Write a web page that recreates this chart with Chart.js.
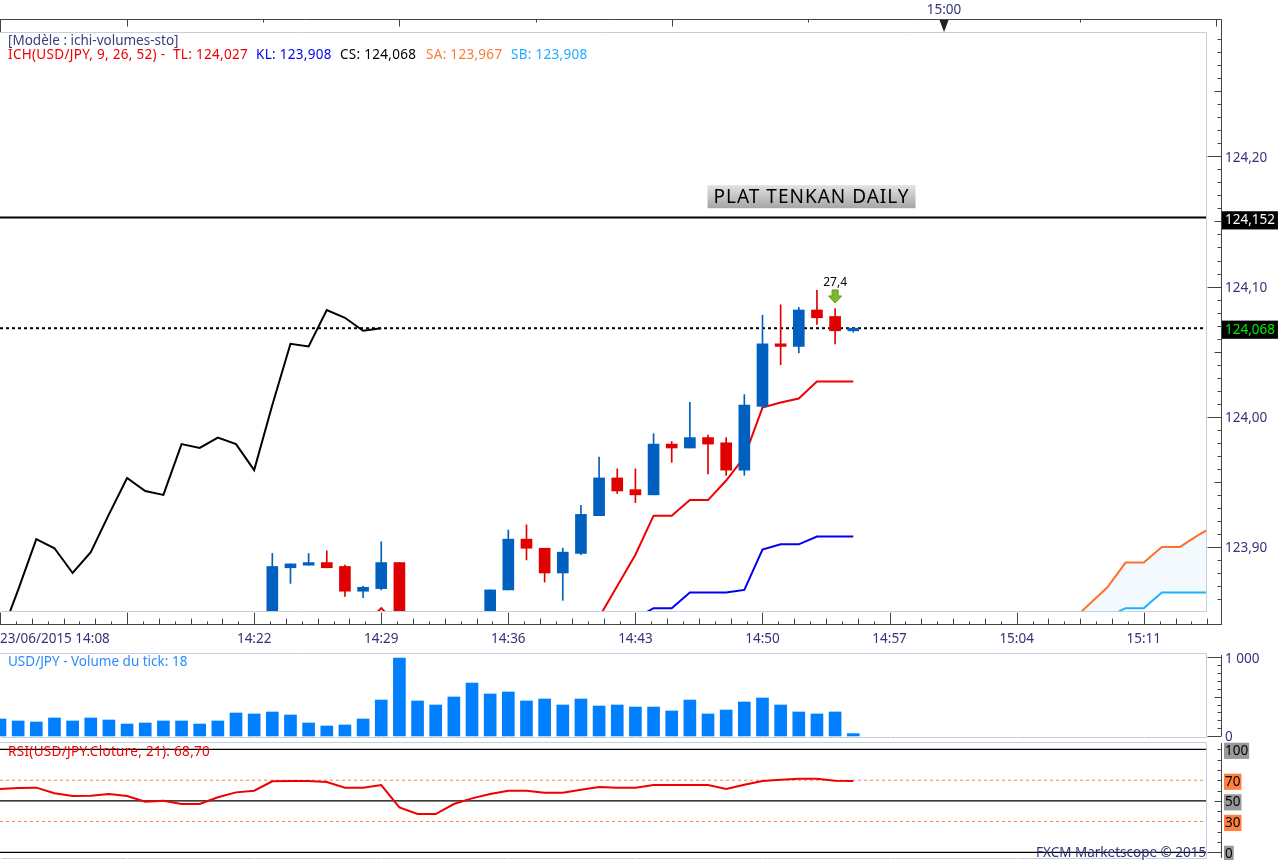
<!DOCTYPE html>
<html>
<head>
<meta charset="utf-8">
<title>USD/JPY</title>
<script src="https://cdn.jsdelivr.net/npm/chart.js@4"></script>
<style>
  html, body { margin: 0; padding: 0; background: #fff; overflow: hidden; }
  canvas { position: absolute; left: 0; }
  .txt { position: absolute; font: 13.5px "Noto Sans", sans-serif; white-space: pre; line-height: 14px; }
  .val { letter-spacing: 0.3px; }
</style>
</head>
<body>
<canvas id="prix" width="1279" height="650" style="top:0"></canvas>
<canvas id="volume" width="1279" height="91" style="top:650px"></canvas>
<canvas id="rsi" width="1279" height="119" style="top:741px"></canvas>

<div class="txt" style="left:8px;top:33px;color:#3c3c7c">[Modèle : ichi-volumes-sto]</div>
<div class="txt val" style="left:8px;top:47px;color:#f00000">ICH(USD/JPY, 9, 26, 52) -</div>
<div class="txt val" style="left:173px;top:47px;color:#f00000">TL: 124,027</div>
<div class="txt val" style="left:256px;top:47px;color:#0000f0">KL: 123,908</div>
<div class="txt val" style="left:340px;top:47px;color:#000">CS: 124,068</div>
<div class="txt val" style="left:426px;top:47px;color:#ff7a33">SA: 123,967</div>
<div class="txt val" style="left:511px;top:47px;color:#20aaff">SB: 123,908</div>
<div class="txt" style="left:8px;top:654px;color:#2a8cff">USD/JPY - Volume du tick: 18</div>
<div class="txt val" style="left:8px;top:744px;color:#f00000">RSI(USD/JPY.Cloture, 21): 68,70</div>
<div class="txt" style="left:1036px;top:845px;color:#33337a">FXCM Marketscope © 2015</div>

<script>
// minutes comptees depuis 14:08
const candleMinutes = [15,16,17,18,19,20,21,22,27,28,29,30,31,32,33,34,35,36,37,38,39,40,41,42,43,44,45,46,47];
const opens  = [123.844,123.884,123.886,123.888,123.885,123.866,123.868,123.888,123.84,123.867,123.906,123.899,123.880,123.895,123.924,123.953,123.944,123.940,123.979,123.976,123.984,123.980,123.959,124.008,124.056,124.054,124.082,124.077,124.066];
const closes = [123.885,123.887,123.888,123.884,123.866,123.869,123.888,123.84,123.867,123.906,123.899,123.880,123.896,123.925,123.953,123.943,123.940,123.979,123.976,123.984,123.979,123.959,124.009,124.056,124.054,124.082,124.076,124.066,124.068];
const highs  = [123.895,123.887,123.895,123.897,123.886,123.870,123.904,123.888,123.867,123.913,123.917,123.899,123.899,123.932,123.969,123.960,123.960,123.987,123.981,124.011,123.986,123.984,124.017,124.078,124.086,124.084,124.097,124.083,124.068];
const lows   = [123.83,123.872,123.886,123.884,123.862,123.861,123.867,123.83,123.83,123.867,123.890,123.873,123.859,123.894,123.924,123.941,123.934,123.940,123.965,123.976,123.956,123.955,123.955,124.007,124.040,124.049,124.071,124.056,124.065];

const chikouMinutes = [0,1,2,3,4,5,6,7,8,9,10,11,12,13,14,15,16,17,18,19,20,21];
const chikou = [123.83,123.867,123.906,123.899,123.880,123.896,123.925,123.953,123.943,123.940,123.979,123.976,123.984,123.979,123.959,124.009,124.056,124.054,124.082,124.076,124.066,124.068];
const tenkanMinutes = [20,21,22,33,34,35,36,37,38,39,40,41,42,43,44,45,46,47];
const tenkan = [123.839,123.853,123.839,123.846,123.870,123.894,123.924,123.924,123.936,123.936,123.951,123.969,124.007,124.011,124.014,124.027,124.027,124.027];
const kijunMinutes = [35,36,37,38,39,40,41,42,43,44,45,46,47];
const kijun = [123.845,123.853,123.853,123.865,123.865,123.865,123.867,123.898,123.902,123.902,123.908,123.908,123.908];
const senkouMinutes = [59,60,61,62,63,64,65,66,67];
const senkouA = [123.843,123.856,123.869,123.888,123.888,123.900,123.900,123.909,123.917];
const senkouB = [123.838,123.842,123.846,123.853,123.853,123.865,123.865,123.865,123.865];

const dailyLevel = 124.153;
const closeLevel = 124.068;
const priceTicks = [123.90,124.00,124.068,124.10,124.152,124.20];

const volumes = [216,191,178,229,191,229,203,152,165,191,191,152,191,292,280,305,267,165,127,140,216,457,991,445,394,496,673,534,559,445,470,394,470,381,394,368,368,318,457,280,330,432,483,394,305,280,305,30];
const rsi = [61.5,62.4,62.8,57.3,54.7,55.0,56.6,54.7,49.2,50.1,46.9,46.9,53.4,58.2,59.8,68.9,69.2,69.2,68.3,62.8,62.8,65.3,43.7,37.2,37.2,46.9,52.4,56.6,59.8,59.8,57.9,57.9,60.8,63.4,62.8,62.8,65.3,65.3,65.3,65.3,61.5,65.6,69.2,70.5,71.5,71.5,69.5,69.2];
const rsiSolid = [100,50,0];
const rsiDashed = [70,30];
const rsiTicks = [100,70,50,30,0];

const xLabelMinutes = [0,14,21,28,35,42,49,56,63];
const xLabels = ['23/06/2015 14:08','14:22','14:29','14:36','14:43','14:50','14:57','15:04','15:11'];

const bleu = '#0060c0', rouge = '#e00000', navy = '#33337a', axe = '#444', cadre = '#c3cfde';
const xMax = 66.43;
const police = '13.5px "Noto Sans", sans-serif';

function pairs(xs, ys) {
  return xs.map((x, i) => ({ x: x, y: ys[i] }));
}

function ligne(data, color, order, extra) {
  return Object.assign({ type: 'line', data: data, borderColor: color, borderWidth: 2, pointRadius: 0, tension: 0, fill: false, order: order }, extra);
}

function tickMinutes() {
  let t = [];
  for (let i = 0; i <= 76; i++) t.push(i * 0.875);
  return t;
}

// cadre du panneau, axe de droite et graduations
const frame = {
  id: 'frame',
  beforeDatasetsDraw(chart, args, o) {
    const c = chart.ctx, a = chart.chartArea, x = chart.scales.x;
    c.save();
    c.strokeStyle = cadre;
    c.lineWidth = 1;
    c.beginPath();
    c.moveTo(0, a.top + 0.5); c.lineTo(a.right + 0.5, a.top + 0.5);
    c.lineTo(a.right + 0.5, a.bottom + 0.5); c.lineTo(0, a.bottom + 0.5);
    c.stroke();
    c.strokeStyle = '#fff';
    c.beginPath();
    for (let m = 0; m <= xMax; m += 7) {
      const px = Math.round(x.getPixelForValue(m)) + 0.5;
      c.moveTo(px, a.bottom); c.lineTo(px, a.bottom + 1);
    }
    c.stroke();
    c.restore();
  },
  afterDraw(chart, args, o) {
    const c = chart.ctx, y = chart.scales.y;
    const ax = 1221.5;
    c.save();
    c.strokeStyle = axe;
    c.lineWidth = 1;
    c.beginPath();
    c.moveTo(ax, o.axisTop); c.lineTo(ax, o.axisBottom);
    o.ticks.forEach(t => {
      const py = Math.round(y.getPixelForValue(t.v)) + 0.5;
      c.moveTo(ax, py); c.lineTo(ax - t.len, py);
    });
    c.stroke();
    c.restore();
  }
};

// axes du temps haut et bas + annotations du panneau des prix
const prixDecor = {
  id: 'prixDecor',
  afterDraw(chart) {
    const c = chart.ctx, x = chart.scales.x, y = chart.scales.y;
    c.save();
    c.strokeStyle = axe;
    c.lineWidth = 1;
    c.beginPath();
    // bas
    c.moveTo(0, 624.5); c.lineTo(1221.5, 624.5);
    tickMinutes().forEach((m, i) => {
      const px = Math.round(x.getPixelForValue(m)) + 0.5;
      const len = i % 8 === 0 ? 12 : (i % 2 === 0 ? 6 : 3);
      c.moveTo(px, 624.5); c.lineTo(px, 624.5 - len);
    });
    // haut
    c.moveTo(0, 19.5); c.lineTo(1221.5, 19.5);
    c.moveTo(0.5, 19.5); c.lineTo(0.5, 32);
    for (let i = 0; i < 9; i++) {
      const px = Math.round(x.getPixelForValue(7 + i * 7.5)) + 0.5;
      c.moveTo(px, 19.5); c.lineTo(px, 19.5 + (i % 2 === 0 ? 7 : 3));
    }
    c.stroke();

    // repere 15:00
    const p15 = x.getPixelForValue(52);
    c.fillStyle = '#222';
    c.beginPath();
    c.moveTo(p15 - 4.5, 20); c.lineTo(p15 + 4.5, 20); c.lineTo(p15, 32); c.closePath();
    c.fill();
    c.fillStyle = navy;
    c.font = police;
    c.textAlign = 'center';
    c.textBaseline = 'middle';
    c.fillText('15:00', p15, 10);

    // PLAT TENKAN DAILY
    const bx = x.getPixelForValue(44.7), by = y.getPixelForValue(124.169);
    const g = c.createLinearGradient(0, by - 11.5, 0, by + 11.5);
    g.addColorStop(0, '#e2e2e2');
    g.addColorStop(1, '#a6a6a6');
    c.fillStyle = g;
    c.fillRect(bx - 104, by - 11.5, 208, 23);
    c.fillStyle = '#000';
    c.font = '19px "Noto Sans", sans-serif';
    c.letterSpacing = '1px';
    c.fillText('PLAT TENKAN DAILY', bx, by + 0.5);
    c.letterSpacing = '0px';

    // fleche 27,4
    const fx = x.getPixelForValue(46), fy = y.getPixelForValue(124.092);
    c.fillStyle = '#000';
    c.font = '12px "Noto Sans", sans-serif';
    c.fillText('27,4', fx, fy - 14);
    c.fillStyle = '#7cbc2a';
    c.strokeStyle = '#5c9a18';
    c.beginPath();
    c.moveTo(fx - 3, fy - 7); c.lineTo(fx + 3, fy - 7); c.lineTo(fx + 3, fy - 1);
    c.lineTo(fx + 6.5, fy - 1); c.lineTo(fx, fy + 6); c.lineTo(fx - 6.5, fy - 1);
    c.lineTo(fx - 3, fy - 1); c.closePath();
    c.fill();
    c.stroke();
    c.restore();
  }
};

function baseOptions(padding, yMin, yMax, yExtra) {
  return {
    responsive: false,
    animation: false,
    devicePixelRatio: 1,
    layout: { padding: padding },
    plugins: { legend: { display: false }, tooltip: { enabled: false } },
    scales: {
      x: { type: 'linear', min: 0, max: xMax, offset: false, display: false, grid: { display: false } },
      y: Object.assign({
        type: 'linear', position: 'right', min: yMin, max: yMax,
        grid: { display: false, drawTicks: false }, border: { display: false },
        afterFit(s) { s.width = 73; s.paddingTop = 0; s.paddingBottom = 0; }
      }, yExtra)
    }
  };
}

function yTicks(from, to, step, kind) {
  let t = [];
  for (let i = from; i <= to; i += step) t.push({ v: i / kind.div, len: kind.len(i) });
  return t;
}

// ---- prix
const isLevel = v => v === closeLevel || v === 124.152;

const prixOptions = baseOptions({ top: 32, left: 0, right: 0, bottom: 0 }, 123.8508, 124.2955, {
  afterBuildTicks(s) { s.ticks = priceTicks.map(v => ({ value: v })); },
  ticks: {
    font: { family: '"Noto Sans", sans-serif', size: 13.5 },
    padding: 19,
    labelOffset: 1.5,
    autoSkip: false,
    color: ctx => ctx.tick.value === closeLevel ? '#00f000' : (ctx.tick.value === 124.152 ? '#fff' : navy),
    showLabelBackdrop: ctx => isLevel(ctx.tick.value),
    backdropColor: '#000',
    backdropPadding: { left: 3, right: 3, top: 1, bottom: 1 },
    callback: v => isLevel(v) ? v.toFixed(3).replace('.', ',') : v.toFixed(2).replace('.', ',')
  }
});
prixOptions.scales.x = {
  type: 'linear', min: 0, max: xMax, offset: false,
  grid: { display: false, drawTicks: false }, border: { display: false },
  afterBuildTicks(s) { s.ticks = tickMinutes().map(v => ({ value: v })); },
  afterFit(s) { s.height = 39; s.paddingLeft = 0; s.paddingRight = 0; },
  ticks: {
    font: { family: '"Noto Sans", sans-serif', size: 13.5 },
    color: navy,
    padding: 20,
    align: 'inner',
    autoSkip: false,
    maxRotation: 0,
    minRotation: 0,
    callback: v => {
      const i = xLabelMinutes.indexOf(v);
      return i >= 0 ? xLabels[i] : '';
    }
  }
};
prixOptions.plugins.frame = {
  axisTop: 19, axisBottom: 625,
  ticks: yTicks(12386, 12429, 1, { div: 100, len: i => i % 10 === 0 ? 14 : (i % 5 === 0 ? 7 : 4) })
};

new Chart(document.getElementById('prix'), {
  data: {
    datasets: [
      { type: 'bar', data: candleMinutes.map((m, i) => ({ x: m, y: [Math.min(opens[i], closes[i]), Math.max(opens[i], closes[i])] })),
        backgroundColor: closes.map((c, i) => c > opens[i] ? bleu : rouge), barThickness: 11, grouped: false, order: 1 },
      { type: 'bar', data: candleMinutes.map((m, i) => ({ x: m, y: [lows[i], highs[i]] })),
        backgroundColor: closes.map((c, i) => c > opens[i] ? bleu : rouge), barThickness: 1, grouped: false, order: 2 },
      ligne(pairs(tenkanMinutes, tenkan), '#f00000', 3),
      ligne(pairs(kijunMinutes, kijun), '#0000f0', 3),
      ligne(pairs(chikouMinutes, chikou), '#000', 3),
      ligne(pairs(senkouMinutes, senkouA), '#ff7030', 3, { fill: '+1', backgroundColor: '#f2fafe' }),
      ligne(pairs(senkouMinutes, senkouB), '#20b0ff', 2.5),
      ligne([{ x: 0, y: dailyLevel }, { x: xMax, y: dailyLevel }], '#000', 5),
      ligne([{ x: 0, y: closeLevel }, { x: xMax, y: closeLevel }], '#000', 5, { borderDash: [3, 3] })
    ]
  },
  options: prixOptions,
  plugins: [frame, prixDecor]
});

// ---- volume
const volumeOptions = baseOptions({ top: 3, left: 0, right: 0, bottom: 4 }, -13, 1055, {
  afterBuildTicks(s) { s.ticks = [{ value: 1000 }, { value: 0 }]; },
  ticks: {
    font: { family: '"Noto Sans", sans-serif', size: 13.5 },
    color: navy,
    padding: 19,
    labelOffset: 1.5,
    callback: v => v === 1000 ? '1 000' : '0'
  }
});
volumeOptions.plugins.frame = {
  axisTop: 5, axisBottom: 86,
  ticks: yTicks(0, 1000, 100, { div: 1, len: i => (i === 0 || i === 1000) ? 14 : (i === 500 ? 7 : 4) })
};

new Chart(document.getElementById('volume'), {
  data: {
    datasets: [{ type: 'bar', data: volumes.map((v, i) => ({ x: i, y: v })), backgroundColor: '#0080ff', barThickness: 12 }]
  },
  options: volumeOptions,
  plugins: [frame]
});

// ---- RSI
const rsiOptions = baseOptions({ top: 1, left: 0, right: 0, bottom: 2 }, -5.5, 107.1, {
  afterBuildTicks(s) { s.ticks = rsiTicks.map(v => ({ value: v })); },
  ticks: {
    font: { family: '"Noto Sans", sans-serif', size: 13.5 },
    color: '#000',
    padding: 19,
    labelOffset: 1.5,
    autoSkip: false,
    showLabelBackdrop: true,
    backdropColor: ctx => rsiDashed.includes(ctx.tick.value) ? '#ff7f3f' : '#999',
    backdropPadding: { left: 1, right: 1, top: 0, bottom: 0 }
  }
});
rsiOptions.plugins.frame = {
  axisTop: 2, axisBottom: 117,
  ticks: yTicks(0, 100, 10, { div: 1, len: i => i === 0 ? 14 : (i === 50 ? 7 : 4) })
};

const rsiDatasets = [ligne(rsi.map((v, i) => ({ x: i, y: v })), '#f00000', 1)];
rsiSolid.forEach(v => rsiDatasets.push(ligne([{ x: 0, y: v }, { x: xMax, y: v }], '#000', 2, { borderWidth: 1.2 })));
rsiDashed.forEach(v => rsiDatasets.push(ligne([{ x: 0, y: v }, { x: xMax, y: v }], '#ff7f3f', 2, { borderWidth: 1, borderDash: [3, 3] })));

new Chart(document.getElementById('rsi'), {
  data: { datasets: rsiDatasets },
  options: rsiOptions,
  plugins: [frame]
});
</script>
</body>
</html>
